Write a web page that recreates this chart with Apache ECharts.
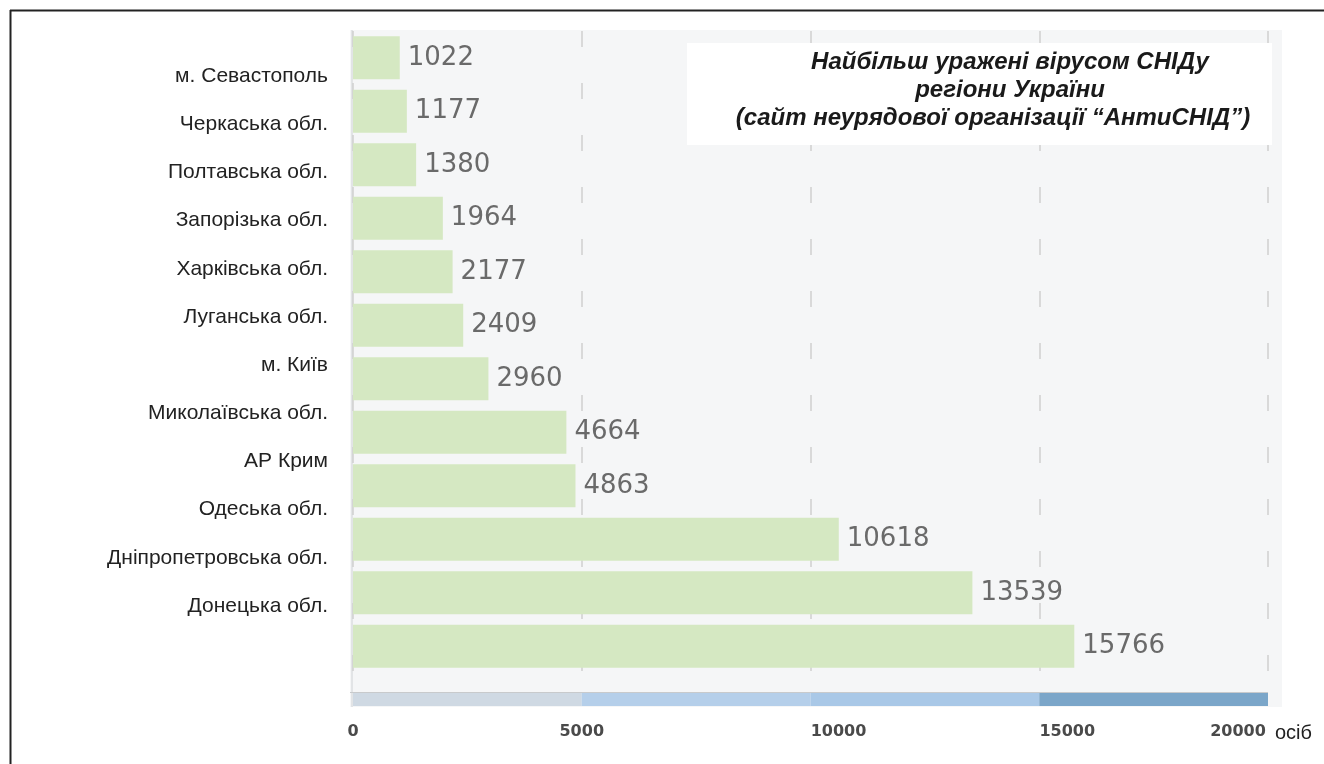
<!DOCTYPE html>
<html>
<head>
<meta charset="utf-8">
<script src="https://cdn.jsdelivr.net/npm/echarts@6/dist/echarts.min.js"></script>
<style>html,body{margin:0;padding:0;background:#fff;}#c{width:1324px;height:764px;}</style>
</head>
<body>
<div id="c"></div>
<script>
const regions = ['м. Севастополь','Черкаська обл.','Полтавська обл.','Запорізька обл.','Харківська обл.','Луганська обл.','м. Київ','Миколаївська обл.','АР Крим','Одеська обл.','Дніпропетровська обл.','Донецька обл.'];
const cases = [1022,1177,1380,1964,2177,2409,2960,4664,4863,10618,13539,15766];
const xTicks = [0,5000,10000,15000,20000];
const stripSegments = [5000,5000,5000,5000];
const stripColors = ['#cfd9e3','#b5cfea','#a9c8e7','#7ba6c9'];
const titleLines = ['Найбільш уражені вірусом СНІДу','регіони України','(сайт неурядової організації “АнтиСНІД”)'];
const unitLabel = 'осіб';

const chart = echarts.init(document.getElementById('c'));
const xMin = xTicks[0], xMax = xTicks[xTicks.length-1], xStep = xTicks[1]-xTicks[0];
const tickStyle = {color:'#4a4a4a', fontFamily:'DejaVu Sans', fontWeight:'bold', fontSize:16};

const option = {
  animation:false,
  grid:[
    {left:353, right:56, top:31, height:642},
    {left:336, right:56, top:52, height:578},
    {left:353, right:56, top:693, height:13}
  ],
  xAxis:[
    {gridIndex:0, type:'value', min:xMin, max:xMax, interval:xStep,
      axisLine:{show:false}, axisTick:{show:false}, axisLabel:{show:false},
      splitLine:{show:true, lineStyle:{color:'#d0d0d0', width:1.5, type:[16,36]}}},
    {gridIndex:1, type:'value', min:xMin, max:xMax, show:false},
    {gridIndex:2, type:'value', min:xMin, max:xMax, interval:xStep,
      axisLine:{show:false}, axisTick:{show:false}, splitLine:{show:false},
      axisLabel:Object.assign({show:true, margin:18,
        formatter:function(v){ if(v===10000||v===15000) return '{s|'+v+'}'; if(v===20000) return '{e|'+v+'}'; return '{n|'+v+'}'; },
        rich:{
          n:Object.assign({}, tickStyle),
          s:Object.assign({padding:[0,0,0,56]}, tickStyle),
          e:Object.assign({padding:[0,60,0,0]}, tickStyle)
        }}, tickStyle)}
  ],
  yAxis:[
    {gridIndex:0, type:'category', data:regions, inverse:true,
      axisLine:{show:false}, axisTick:{show:false}, axisLabel:{show:false}, splitLine:{show:false}},
    {gridIndex:1, type:'category', data:regions, inverse:true,
      axisLine:{show:false}, axisTick:{show:false}, splitLine:{show:false},
      axisLabel:{show:true, margin:8, color:'#222', fontFamily:'Liberation Sans', fontSize:21}},
    {gridIndex:2, type:'category', data:['strip'],
      axisLine:{show:false}, axisTick:{show:false}, axisLabel:{show:false}, splitLine:{show:false}}
  ],
  series:[
    {type:'bar', xAxisIndex:0, yAxisIndex:0, data:cases, barCategoryGap:'20%',
      itemStyle:{color:'#d5e8c2'},
      label:{show:true, position:'right', distance:8, color:'#6a6a6a', fontFamily:'DejaVu Sans', fontSize:26}}
  ].concat(stripSegments.map(function(v,i){
    return {type:'bar', xAxisIndex:2, yAxisIndex:2, stack:'strip', data:[v], barWidth:'100%',
      itemStyle:{color:stripColors[i]}, silent:true};
  })),
  graphic:[
    {type:'rect', z:-10, shape:{x:350, y:30, width:932, height:677}, style:{fill:'#f5f6f7'}},
    {type:'line', z:-9, shape:{x1:352, y1:30, x2:352, y2:707}, style:{stroke:'#e2e4e6', lineWidth:2}},
    {type:'line', z:-9, shape:{x1:350, y1:692.5, x2:1268, y2:692.5}, style:{stroke:'#c8cacc', lineWidth:1}},
    {type:'line', shape:{x1:10, y1:10.5, x2:1324, y2:10.5}, style:{stroke:'#222', lineWidth:2}},
    {type:'line', shape:{x1:10.5, y1:10, x2:10.5, y2:764}, style:{stroke:'#222', lineWidth:2}},
    {type:'rect', z:50, shape:{x:687, y:43, width:585, height:102}, style:{fill:'#ffffff'}},
    {type:'text', z:51, x:1010, y:62, style:{text:titleLines[0], align:'center', verticalAlign:'middle', fill:'#1a1a1a', font:'italic bold 24px "Liberation Sans"'}},
    {type:'text', z:51, x:1010, y:90, style:{text:titleLines[1], align:'center', verticalAlign:'middle', fill:'#1a1a1a', font:'italic bold 24px "Liberation Sans"'}},
    {type:'text', z:51, x:993, y:118, style:{text:titleLines[2], align:'center', verticalAlign:'middle', fill:'#1a1a1a', font:'italic bold 24px "Liberation Sans"'}},
    {type:'text', x:1275, y:733, style:{text:unitLabel, align:'left', verticalAlign:'middle', fill:'#222', font:'20px "Liberation Sans"'}}
  ]
};
chart.setOption(option);
</script>
</body>
</html>
